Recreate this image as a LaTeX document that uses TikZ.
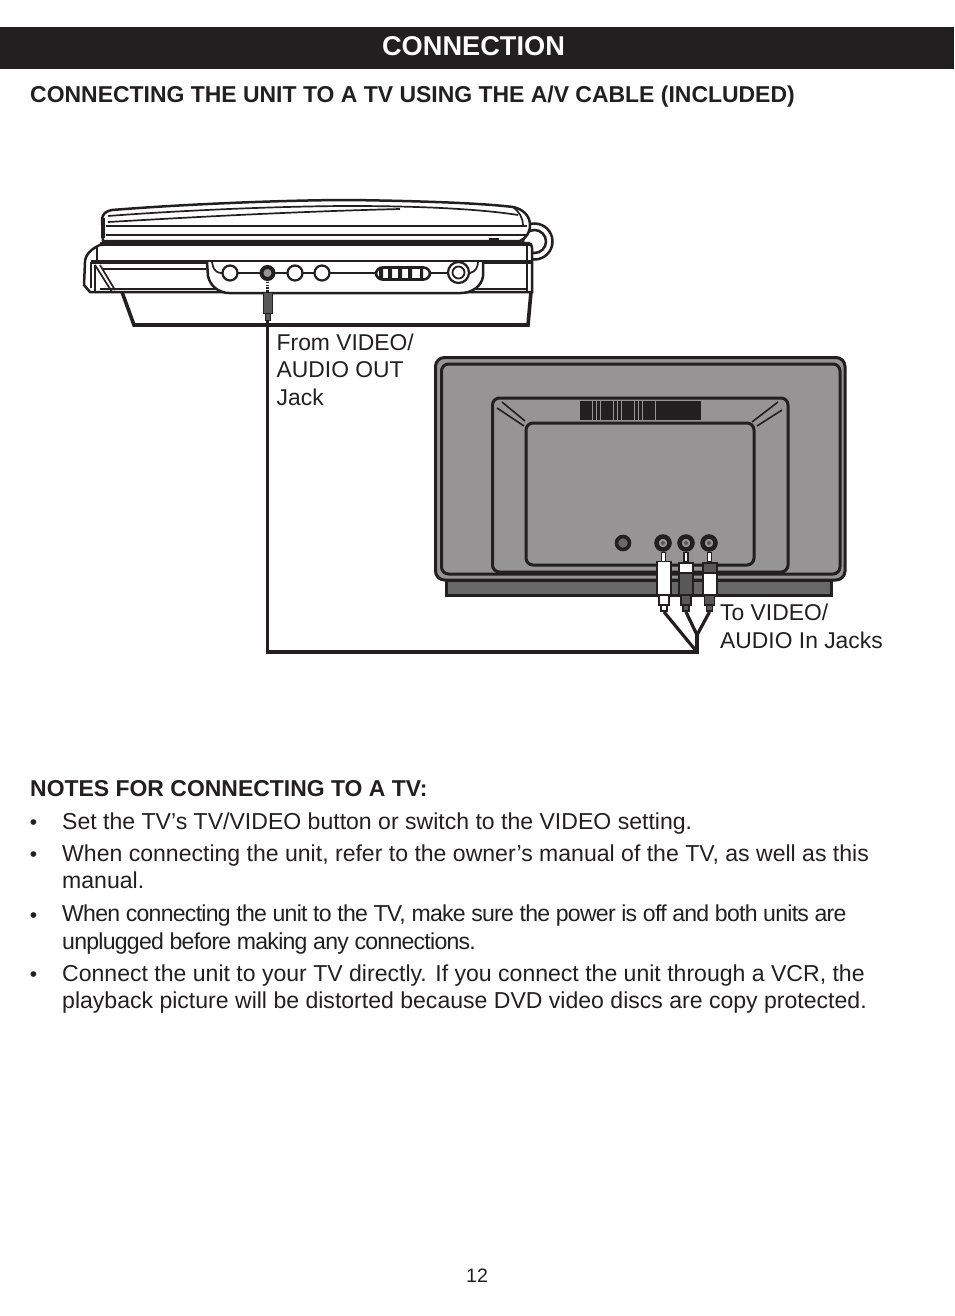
\documentclass[tikz,border=0pt]{standalone}
\usepackage{fontspec}
\setmainfont{Liberation Sans}
\newfontfamily\tightfont[LetterSpace=-3.2]{Liberation Sans}
\usetikzlibrary{arrows.meta,positioning,calc}
\definecolor{tvgray}{RGB}{150,148,149}
\definecolor{standgray}{RGB}{104,104,104}
\definecolor{plugdark}{RGB}{88,88,88}
\definecolor{inkblack}{RGB}{35,31,32}

\begin{document}
\begin{tikzpicture}[
x=1pt,y=-1pt,
heading/.style={
anchor=west,
inner sep=0pt,
text=inkblack,
font=\fontsize{22.95}{27}\selectfont\bfseries
},
para/.style={
anchor=north west,
inner sep=0pt,
align=left,
text=inkblack,
font=\fontsize{23.05}{27.5}\selectfont
},
callout/.style={
anchor=north west,
inner sep=0pt,
align=left,
text=inkblack,
font=\fontsize{22.85}{27.6}\selectfont
},
bullet/.style={
anchor=base,
inner sep=0pt,
text=inkblack,
font=\fontsize{21}{24}\selectfont
},
thinline/.style={
draw=inkblack,
line width=1.7pt
},
midline/.style={
draw=inkblack,
line width=2.5pt
},
heavyline/.style={
draw=inkblack,
line width=3.6pt
},
panel/.style={
draw=inkblack,
line width=3pt,
fill=tvgray,
rounded corners=7pt
},
socket/.style={
circle,
draw=inkblack,
line width=4.5pt,
fill=tvgray,
inner sep=0pt,
minimum size=13pt
},
pin/.style={
circle,
fill=plugdark,
inner sep=0pt,
minimum size=4pt
},
dial/.style={
circle,
draw=inkblack,
line width=2.2pt,
fill=white,
inner sep=0pt,
minimum size=15pt
},
plugtip/.style={
draw=inkblack,
line width=1.2pt,
fill=white,
inner sep=0pt,
minimum width=4pt,
minimum height=9pt
},
plugcap/.style={
draw=inkblack,
line width=1.6pt,
inner sep=0pt,
minimum width=14pt,
minimum height=10pt
},
plugbody/.style={
draw=inkblack,
line width=1.6pt,
inner sep=0pt,
minimum width=14pt,
minimum height=22pt
},
plugboot/.style={
draw=inkblack,
line width=1.8pt,
inner sep=0pt,
minimum width=10pt,
minimum height=10pt
},
plugneck/.style={
draw=inkblack,
line width=1.8pt,
inner sep=0pt,
minimum width=6pt,
minimum height=6pt
},
cable/.style={
draw=inkblack,
line width=3.2pt
}
]

\useasboundingbox (0,0) rectangle (954,1316);

\fill[inkblack] (0,27) rectangle (954,69);
\node[anchor=center,inner sep=0pt,text=white,font=\fontsize{27.2}{32}\selectfont\bfseries] (title) at (473.5,46) {CONNECTION};
\node[heading] (subtitle) at (30,97) {CONNECTING THE UNIT TO A TV USING THE A/V CABLE (INCLUDED)};

\draw[midline,fill=white] (534.5,241.5) circle (18);
\draw[midline,fill=white] (534.5,241.5) circle (11.5);

\draw[midline,fill=white] (103,241) -- (102,220) .. controls (102,214) and (106,211) .. (112,210)
.. controls (200,203) and (300,200) .. (350,200) .. controls (420,201) and (480,203) .. (513,207)
.. controls (523,209) and (530,216) .. (530,225) .. controls (530,233) and (526,238) .. (520,241) -- cycle;
\draw[heavyline] (103,218) -- (103,238);
\draw[thinline] (108,216) .. controls (200,209) and (300,206) .. (350,206) .. controls (420,206) and (480,209) .. (518,215);
\draw[thinline] (108,222) .. controls (180,218) and (280,212) .. (400,209);
\draw[midline] (106,226) -- (527,226);
\draw[thinline] (106,235) -- (527,235);
\draw[thinline] (513,207) .. controls (519,212) and (523,217) .. (523,226);
\fill[inkblack] (489,238) rectangle (499,241);

\draw[midline,fill=white] (105,243) -- (528,243) .. controls (531,243) and (532,245) .. (532,248) -- (532,292) -- (90,292) -- (84,285) -- (85,262)
.. controls (85,256) and (90,248) .. (105,243) -- cycle;
\draw[line width=4pt,draw=inkblack] (100,244) -- (530,244);
\draw[thinline] (97,247) -- (97,260);
\draw[midline] (527,245) -- (527,292);
\draw[heavyline] (91,262) -- (208,262);
\draw[midline] (208,261) -- (483,261);
\draw[heavyline] (483,262) -- (532,262);
\draw[thinline] (103,269) -- (206,269);
\draw[thinline] (95,265) -- (112,292);
\draw[thinline] (100,265) -- (115,290);
\draw[midline] (91,262) -- (91,288);
\draw[thinline] (95,265) -- (95,291);
\draw[thinline] (100,289) -- (527,289);
\draw[heavyline] (122,292) -- (134,325) -- (528,325) -- (531,292);

\draw[midline,fill=white] (207,262) -- (208,276) .. controls (210,286) and (219,293) .. (229,293) -- (461,293)
.. controls (472,293) and (482,286) .. (483,276) -- (483,262);
\draw[thinline] (212,262) .. controls (213,266) and (213,272) .. (221,273) -- (470,273) .. controls (476,272) and (478,266) .. (478,262);

\node[dial] (dialA) at (230,273) {};
\node[circle,draw=inkblack,line width=4pt,fill=tvgray,inner sep=0pt,minimum size=12pt] (outjack) at (267.5,273) {};
\node[dial] (dialB) at (295,273) {};
\node[dial] (dialC) at (322,273) {};
\node[draw=inkblack,line width=2.6pt,fill=white,rounded corners=6.5pt,inner sep=0pt,minimum width=54pt,minimum height=12pt] (switch) at (403,273.5) {};
\fill[inkblack] (379,268) rectangle (383,279) (388,268) rectangle (392,279) (398,268) rectangle (402,279) (408,268) rectangle (412,279) (420,268) rectangle (423,279);
\node[dial,minimum size=21pt] (powerjack) at (458.5,272.5) {};
\node[circle,draw=inkblack,line width=1.8pt,fill=white,inner sep=0pt,minimum size=12pt] (powerpin) at (458.5,272.5) {};

\draw[line width=3pt,draw=inkblack,dash pattern=on 1.4pt off 1.4pt] (267.5,279) -- (267.5,292);
\node[draw=inkblack,line width=1pt,fill=plugdark,inner sep=0pt,minimum width=9pt,minimum height=21pt] (minibody) at (267.5,302.5) {};
\node[draw=inkblack,line width=1pt,fill=plugdark,inner sep=0pt,minimum width=5pt,minimum height=7pt] (miniboot) at (267.5,316.5) {};

\node[callout] (fromlabel) at (276.5,333.5) {From VIDEO/\\AUDIO OUT\\Jack};

\draw[panel,rounded corners=9pt] (435.5,357.5) rectangle (845,580);
\draw[panel] (441.5,364) rectangle (840,574);
\draw[panel] (492.5,398) rectangle (788,572);
\draw[panel] (526,423) rectangle (754,565);

\draw[draw=inkblack,line width=1.6pt] (502,402) -- (525,421);
\draw[draw=inkblack,line width=1.6pt] (497,408) -- (524,426);
\draw[draw=inkblack,line width=1.6pt] (778,402) -- (752,422);
\draw[draw=inkblack,line width=1.6pt] (782,410) -- (757,426);
\draw[draw=inkblack,line width=19pt,dash pattern=on 3.6pt off 0.6pt] (580,410.5) -- (658,410.5);
\fill[inkblack] (656,401) rectangle (701,420);

\draw[heavyline,line width=3pt,fill=standgray] (446.5,580) rectangle (831.5,595);

\node[circle,draw=inkblack,line width=3.6pt,fill=standgray,inner sep=0pt,minimum size=13pt] (knob) at (623,543) {};
\node[socket] (jackA) at (663,543) {};
\node[socket] (jackB) at (686,543) {};
\node[socket] (jackC) at (709,543) {};
\node[pin] (pinA) at (jackA) {};
\node[pin] (pinB) at (jackB) {};
\node[pin] (pinC) at (jackC) {};

\node[plugtip] (tipA) at (663.5,557) {};
\node[plugtip] (tipB) at (686,557) {};
\node[plugtip] (tipC) at (709.5,557) {};

\node[plugbody,minimum height=33pt,fill=white] (bodyA) at (664,578) {};
\node[plugcap,fill=white] (capB) at (686,568) {};
\node[plugcap,fill=plugdark] (capC) at (710,568) {};
\node[plugbody,fill=plugdark] (bodyB) at (686,584) {};
\node[plugbody,fill=white] (bodyC) at (710,584) {};

\node[plugboot,fill=white] (bootA) at (664,600) {};
\node[plugboot,fill=plugdark] (bootB) at (686,600) {};
\node[plugboot,fill=plugdark] (bootC) at (709.5,600) {};

\node[plugneck,fill=white] (neckA) at (664,608) {};
\node[plugneck,fill=plugdark] (neckB) at (686,608) {};
\node[plugneck,fill=plugdark] (neckC) at (709.5,608) {};

\coordinate (split) at (697,635);
\coordinate (corner) at (697,652);
\coordinate (rise) at (267.5,652);

\draw[cable] (neckA.south) -- (corner);
\draw[cable] (neckB.south) -- (split);
\draw[cable] (neckC.south) -- (split);
\draw[cable,line join=miter] (split) -- (corner) -- (rise) -- (miniboot.south);

\node[callout] (tolabel) at (720,604) {To VIDEO/\\AUDIO In Jacks};

\node[heading] (noteshead) at (30,789) {NOTES FOR CONNECTING TO A TV:};

\node[bullet] (dotA) at (33.5,829) {•};
\node[para] (noteA) at (62,812.5) {Set the TV’s TV/VIDEO button or switch to the VIDEO setting.};
\node[bullet] (dotB) at (33.5,861) {•};
\node[para] (noteB) at (62,844.5) {When connecting the unit, refer to the owner’s manual of the TV, as well as this\\manual.};
\node[bullet] (dotC) at (33.5,922) {•};
\node[para,font=\fontsize{23.05}{27.5}\selectfont\tightfont] (noteC) at (62,905) {When connecting the unit to the TV, make sure the power is off and both units are\\unplugged before making any connections.};
\node[bullet] (dotD) at (33.5,981) {•};
\node[para] (noteD) at (62,964.5) {Connect the unit to your TV directly. If you connect the unit through a VCR, the\\playback picture will be distorted because DVD video discs are copy protected.};

\node[anchor=center,inner sep=0pt,text=inkblack,font=\fontsize{19.5}{23}\selectfont] (pagenum) at (477,1275.5) {12};

\end{tikzpicture}
\end{document}
